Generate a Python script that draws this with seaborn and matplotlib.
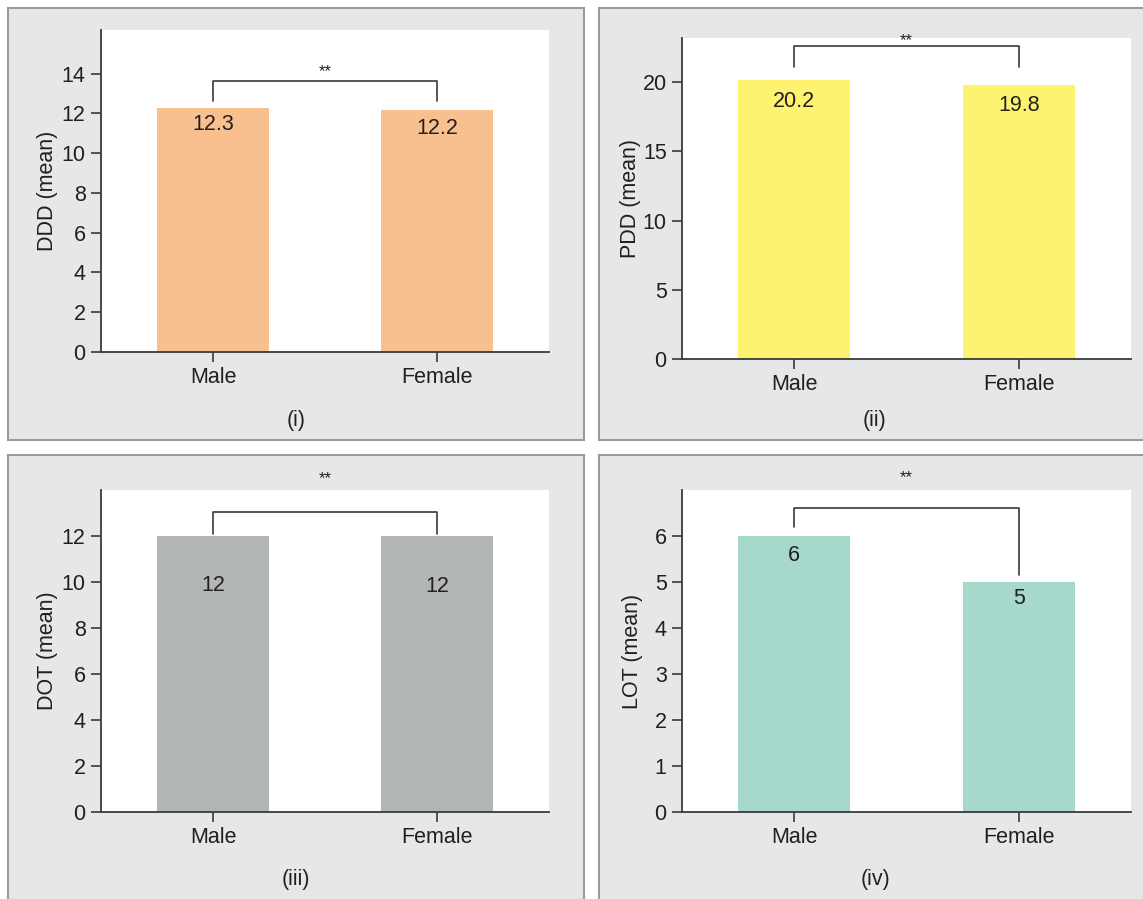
import matplotlib
matplotlib.use("Agg")
import matplotlib.pyplot as plt
from matplotlib.patches import Rectangle
import seaborn as sns
import pandas as pd

sns.set_theme(style="white")
plt.rcParams["font.family"] = ["Liberation Sans", "DejaVu Sans"]

# Data
genders = ["Male", "Female"]
ddd_mean = [12.3, 12.2]
pdd_mean = [20.2, 19.8]
dot_mean = [12, 12]
lot_mean = [6, 5]
value_labels = [["12.3", "12.2"], ["20.2", "19.8"], ["12", "12"], ["6", "5"]]
y_labels = ["DDD (mean)", "PDD (mean)", "DOT (mean)", "LOT (mean)"]
panel_tags = ["(i)", "(ii)", "(iii)", "(iv)"]
bar_colors = ["#f9c08f", "#fef271", "#b3b6b7", "#a6d8cb"]

INK = "#231f20"
PANEL_BG = "#e6e7e9"
PANEL_EDGE = "#9a9b9d"
FS = 15.5

W, H = 1143, 899
fig = plt.figure(figsize=(W / 100, H / 100), dpi=100)
fig.patch.set_facecolor("white")


def fx(px):
    return px / W


def fy(py):
    return 1 - py / H


# Grey panel frames (pixel boxes: left, top, right, bottom)
frames = [(8, 8, 584, 440), (599, 8, 1160, 440), (8, 455, 584, 910), (599, 455, 1160, 910)]
for (l, t, r, b) in frames:
    fig.patches.append(Rectangle((fx(l), fy(b)), fx(r - l), (b - t) / H,
                                 transform=fig.transFigure, facecolor=PANEL_BG,
                                 edgecolor=PANEL_EDGE, linewidth=1.5, zorder=-5))

# Plot areas (pixel boxes: left, top, right, bottom)
areas = [(101, 30, 549, 352), (682, 38, 1131, 359), (101, 490, 549, 812), (682, 490, 1131, 812)]

specs = [
    dict(vals=ddd_mean, ylim=16.2, ticks=[0, 2, 4, 6, 8, 10, 12, 14],
         bracket=13.65, legs=(12.65, 12.65), star=14.1,
         label_drop=(12, 13.5), ypad=3),
    dict(vals=pdd_mean, ylim=23.2, ticks=[0, 5, 10, 15, 20],
         bracket=22.6, legs=(21.1, 21.1), star=23.0,
         label_drop=(15.5, 14.5), ypad=1),
    dict(vals=dot_mean, ylim=14.0, ticks=[0, 2, 4, 6, 8, 10, 12],
         bracket=13.04, legs=(12.1, 12.1), star=14.5,
         label_drop=(35.5, 36.5), ypad=3),
    dict(vals=lot_mean, ylim=7.0, ticks=[0, 1, 2, 3, 4, 5, 6],
         bracket=6.6, legs=(6.2, 5.15), star=7.27,
         label_drop=(14, 12), ypad=8),
]

for i, spec in enumerate(specs):
    l, t, r, b = areas[i]
    ax = fig.add_axes([fx(l), fy(b), fx(r - l), (b - t) / H])
    ax.set_facecolor("white")
    df = pd.DataFrame({"Gender": genders, "Mean": spec["vals"]})
    sns.barplot(data=df, x="Gender", y="Mean", color=bar_colors[i],
                saturation=1, width=0.5, ax=ax, edgecolor="none")
    ax.set_xlim(-0.5, 1.5)
    ax.set_ylim(0, spec["ylim"])
    ax.set_yticks(spec["ticks"])
    ax.set_xlabel("")
    ax.set_ylabel(y_labels[i], fontsize=FS, color=INK, labelpad=spec["ypad"])
    for side in ("top", "right"):
        ax.spines[side].set_visible(False)
    for side in ("left", "bottom"):
        ax.spines[side].set_color("#3a3a3a")
        ax.spines[side].set_linewidth(1.3)
    ax.tick_params(axis="both", which="both", direction="out", length=7,
                   width=1.2, color="#3a3a3a", labelsize=FS, labelcolor=INK,
                   left=True, bottom=True, pad=4)

    # Value labels inside the bars, below their tops
    for j, v in enumerate(spec["vals"]):
        ax.annotate(value_labels[i][j], xy=(j, v), xytext=(0, -spec["label_drop"][j]),
                    textcoords="offset points", ha="center", va="center",
                    fontsize=FS, color=INK)

    # Significance bracket
    y0, y1 = spec["legs"]
    yb = spec["bracket"]
    ax.plot([0, 0, 1, 1], [y0, yb, yb, y1], color="#3a3a3a", linewidth=1.2,
            clip_on=False)
    ax.text(0.5, spec["star"], "**", ha="center", va="center", fontsize=12,
            color=INK, clip_on=False)

    # Panel tag centred in its frame
    fl, ft, fr, fb = frames[i]
    tag_y = 420 if i < 2 else 879
    fig.text(fx((fl + min(fr, 1151)) / 2), fy(tag_y), panel_tags[i],
             ha="center", va="center", fontsize=FS, color=INK)

fig.savefig("out.png", dpi=100, facecolor="white")
